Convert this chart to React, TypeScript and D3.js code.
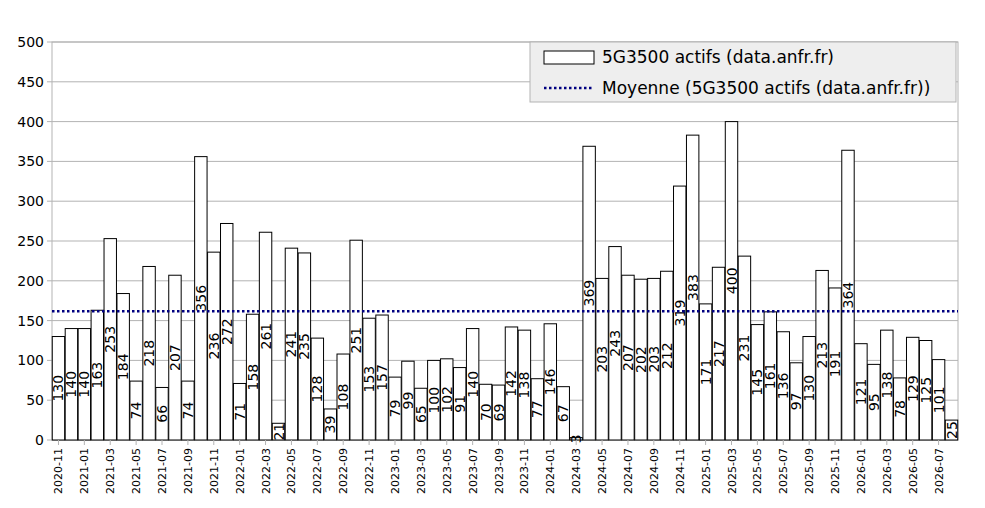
import * as d3 from "d3";

const values = [130,140,140,163,253,184,74,218,66,207,74,356,236,272,71,158,261,21,241,235,128,39,108,251,153,157,79,99,65,100,102,91,140,70,69,142,138,77,146,67,3,369,203,243,207,202,203,212,319,383,171,217,400,231,145,161,136,97,130,213,191,364,121,95,138,78,129,125,101,25];
const months = values.map((_, i) => {
  const m = 10 + i;
  const y = 2020 + Math.floor(m / 12);
  return `${y}-${String((m % 12) + 1).padStart(2, "0")}`;
});
const yTicks = [0,50,100,150,200,250,300,350,400,450,500];
const seriesName = "5G3500 actifs (data.anfr.fr)";
const meanName = "Moyenne (5G3500 actifs (data.anfr.fr))";

export default function App() {
  const W = 985, H = 508;
  const m = { left: 52, right: 27, top: 42, bottom: 68 };
  const x = d3.scaleBand().domain(months).range([m.left, W - m.right]).paddingInner(0.04).paddingOuter(0.02);
  const y = d3.scaleLinear().domain([0, 500]).range([H - m.bottom, m.top]);
  const mean = d3.mean(values) as number;
  const font = "DejaVu Sans, sans-serif";
  return (
    <svg width={W} height={H} style={{ position: "absolute", left: 0, top: 0, background: "#fff" }} fontFamily={font}>
      <rect x={m.left} y={m.top} width={W - m.left - m.right} height={H - m.top - m.bottom} fill="none" stroke="#b3b3b3" />
      {yTicks.map(t => (
        <g key={t}>
          <line x1={m.left} x2={W - m.right} y1={y(t)} y2={y(t)} stroke="#b3b3b3" />
          <line x1={m.left - 5} x2={m.left} y1={y(t)} y2={y(t)} stroke="#b3b3b3" />
          <text x={m.left - 8} y={y(t) + 5} textAnchor="end" fontSize={14}>{t}</text>
        </g>
      ))}
      {values.map((v, i) => {
        const bx = x(months[i])!;
        const bw = x.bandwidth();
        return (
          <g key={i}>
            <rect x={bx} y={y(v)} width={bw} height={y(0) - y(v)} fill="#fff" stroke="#000" strokeWidth={1} />
            <text transform={`translate(${bx + bw / 2 + 5},${(y(0) + y(v)) / 2}) rotate(-90)`} textAnchor="middle" fontSize={14}>{v}</text>
          </g>
        );
      })}
      <line x1={m.left} x2={W - m.right} y1={y(mean)} y2={y(mean)} stroke="#000080" strokeWidth={2.5} strokeDasharray="2.5,2.5" />
      {months.map((mo, i) => i % 2 === 0 && (
        <g key={mo}>
          <line x1={x(mo)! + x.bandwidth() / 2} x2={x(mo)! + x.bandwidth() / 2} y1={y(0)} y2={y(0) + 5} stroke="#b3b3b3" />
          <text transform={`translate(${x(mo)! + x.bandwidth() / 2 + 4},${y(0) + 8}) rotate(-90)`} textAnchor="end" fontSize={11}>{mo}</text>
        </g>
      ))}
      <g transform="translate(530,42)">
        <rect width={426} height={60} fill="#eeeeee" stroke="#b3b3b3" />
        <rect x={14} y={9} width={50} height={13} fill="#fff" stroke="#000" />
        <text x={72} y={21} fontSize={17}>{seriesName}</text>
        <line x1={14} x2={64} y1={46} y2={46} stroke="#000080" strokeWidth={2.5} strokeDasharray="2.5,2.5" />
        <text x={72} y={52} fontSize={17}>{meanName}</text>
      </g>
    </svg>
  );
}
